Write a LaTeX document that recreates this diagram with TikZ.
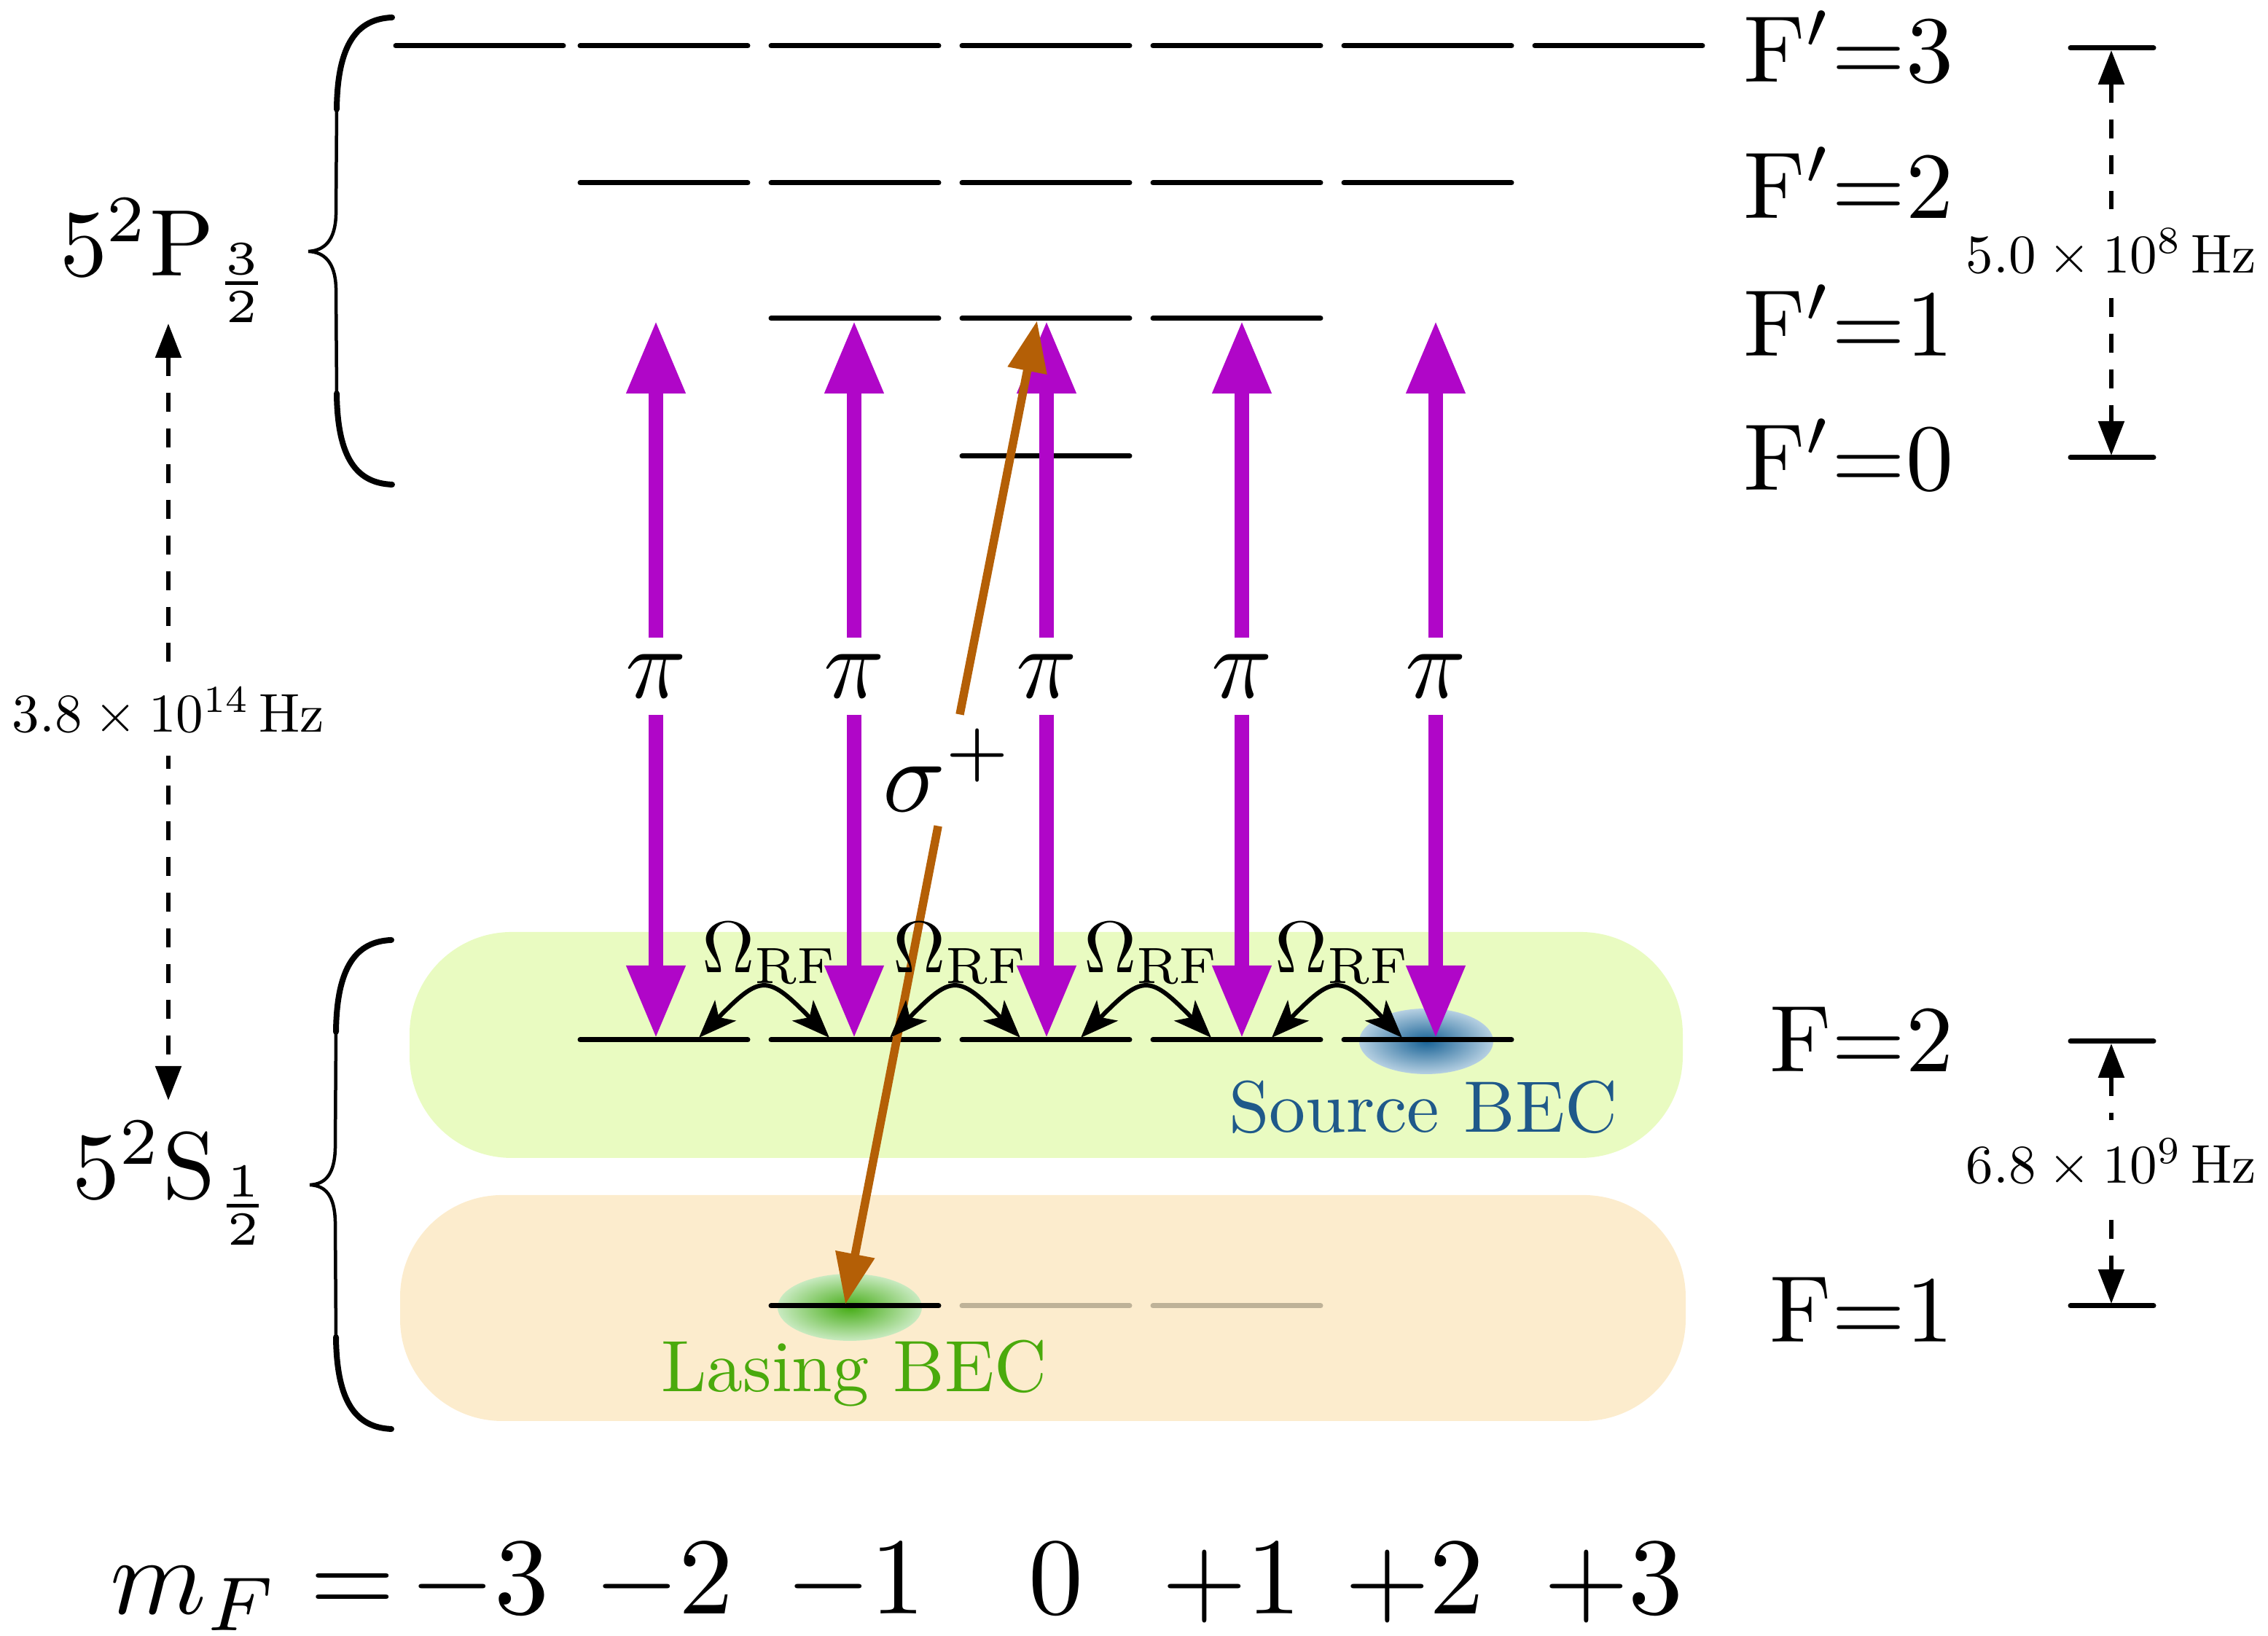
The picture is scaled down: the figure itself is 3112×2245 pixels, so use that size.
\RequirePackage{fix-cm}
\documentclass[tikz,border=0pt]{standalone}
\usepackage{graphicx}
\usetikzlibrary{arrows.meta}
\definecolor{piMag}{RGB}{176,6,200}
\definecolor{sigOr}{RGB}{180,95,6}
\definecolor{boxGreen}{RGB}{233,251,193}
\definecolor{boxPeach}{RGB}{252,236,205}
\definecolor{lvlGray}{RGB}{190,178,152}
\definecolor{srcBlue}{RGB}{31,89,138}
\definecolor{lasGreen}{RGB}{74,170,12}
\definecolor{blueIn}{RGB}{24,98,150}
\definecolor{blueOut}{RGB}{182,208,226}
\definecolor{greenIn}{RGB}{70,172,22}
\definecolor{greenOut}{RGB}{200,234,192}
\newcommand\txtBig[1]{\scalebox{1.3}{#1}}
\newcommand\txtMf[1]{\scalebox{1.5}{#1}}
\newcommand\txtPi[1]{\scalebox{1.38}{#1}}
\newcommand\txtSig[1]{\scalebox{1.42}{#1}}
\newcommand\txtDim[1]{\scalebox{0.75}{#1}}
\begin{document}
\begin{tikzpicture}[x=0.1pt,y=-0.1pt,
  lvl/.style={line width=0.7pt,line cap=round},
  lvlgray/.style={lvl,draw=lvlGray},
  piarr/.style={draw=piMag,line width=2pt,-{Triangle[length=10pt,width=7.6pt]}},
  sigarr/.style={draw=sigOr,line width=1.15pt,-{Triangle[length=7pt,width=5.2pt]}},
  rfarr/.style={line width=0.6pt,{Stealth[length=5.2pt,width=4pt,inset=1.3pt]}-{Stealth[length=5.2pt,width=4pt,inset=1.3pt]}},
  dimarr/.style={line width=0.55pt,dash pattern=on 2.6pt off 2.3pt,{Triangle[length=4.7pt,width=3.5pt]}-{Triangle[length=4.7pt,width=3.5pt]}},
  dimlbl/.style={fill=white,inner sep=2.6pt},
  biglbl/.style={inner sep=0pt},
  mflbl/.style={inner sep=0pt},
  pilbl/.style={inner sep=2.1pt},
  siglbl/.style={inner sep=1.8pt},
  rflbl/.style={inner sep=0pt,anchor=south},
  beclbl/.style={inner sep=0pt,anchor=base},
  bracestyle/.style={line width=0.45pt,line cap=round},
  braceend/.style={line width=0.8pt,line cap=round}]
\useasboundingbox (0,0) rectangle (3112,2245);

% background boxes
\fill[boxGreen, rounded corners=14pt] (562,1279) rectangle (2309,1589);
\fill[boxPeach, rounded corners=14pt] (549,1640) rectangle (2313,1950);

% BEC blobs
\shade[inner color=blueIn, outer color=blueOut] (1957,1429) ellipse [x radius=9.2pt, y radius=4.5pt];
\shade[inner color=greenIn, outer color=greenOut] (1166,1794) ellipse [x radius=9.9pt, y radius=4.6pt];

% levels
\foreach \c in {658,911,1173,1435,1697,1959,2221} \draw[lvl] (\c-115,63) -- (\c+115,63);
\foreach \c in {911,1173,1435,1697,1959} \draw[lvl] (\c-115,251) -- (\c+115,251);
\foreach \c in {1173,1435,1697} \draw[lvl] (\c-115,437) -- (\c+115,437);
\draw[lvl] (1435-115,626) -- (1435+115,626);
\foreach \c in {911,1173,1435,1697,1959} \draw[lvl] (\c-115,1427) -- (\c+115,1427);
\draw[lvl] (1173-115,1792) -- (1173+115,1792);
\foreach \c in {1435,1697} \draw[lvlgray] (\c-115,1792) -- (\c+115,1792);

% braces
\draw[bracestyle] (538,24) .. controls (490,26) and (463,60) .. (462,150) -- (461,295)
  .. controls (460,330) and (445,344) .. (423,345)
  .. controls (445,346) and (460,360) .. (461,395) -- (462,540)
  .. controls (463,630) and (490,663) .. (538,665);
\draw[braceend] (538,24) .. controls (490,26) and (463,60) .. (462,150);
\draw[braceend] (462,540) .. controls (463,630) and (490,663) .. (538,665);
\draw[bracestyle] (537,1290) .. controls (489,1292) and (462,1326) .. (461,1416) -- (460,1576)
  .. controls (459,1611) and (447,1625) .. (425,1626)
  .. controls (447,1627) and (459,1641) .. (460,1676) -- (461,1835)
  .. controls (462,1925) and (489,1959) .. (537,1961);
\draw[braceend] (537,1290) .. controls (489,1292) and (462,1326) .. (461,1416);
\draw[braceend] (461,1835) .. controls (462,1925) and (489,1959) .. (537,1961);

% pi transitions
\foreach \i/\x in {1/900,2/1172,3/1436,4/1704,5/1970} {
  \node[pilbl] (pi\i) at (\x,928) {\txtPi{$\pi$}};
  \coordinate (pu\i) at (\x,440);
  \coordinate (pd\i) at (\x,1425);
  \draw[piarr] (pi\i) -- (pu\i);
  \draw[piarr] (pi\i) -- (pd\i);
}

% sigma+ transition
\coordinate (sU) at (1423,440);
\coordinate (sD) at (1160,1790);
\node[siglbl] (sig) at (1302,1057) {\txtSig{$\sigma^+$}};
\draw[sigarr] (sig) -- (sU);
\draw[sigarr] (sig) -- (sD);

% RF couplings
\foreach \i/\a/\b in {1/911/1173,2/1173/1435,3/1435/1697,4/1697/1959} {
  \coordinate (ra\i) at (\a+48,1424);
  \coordinate (rb\i) at (\b-35,1424);
  \draw[rfarr] (ra\i) .. controls +(85,-87) and +(-85,-87) .. (rb\i);
  \node[rflbl] (rf\i) at ({(\a+\b)/2+15},1352) {$\Omega_{\mathrm{RF}}$};
}

% BEC labels
\node[beclbl,text=srcBlue] (src) at (1953,1554) {Source BEC};
\node[beclbl,text=lasGreen] (las) at (1172,1910) {Lasing BEC};

% level labels
\node[biglbl,anchor=base east] (Fp3) at (2682,113) {\txtBig{F$'$=3}};
\node[biglbl,anchor=base east] (Fp2) at (2682,300) {\txtBig{F$'$=2}};
\node[biglbl,anchor=base east] (Fp1) at (2682,489) {\txtBig{F$'$=1}};
\node[biglbl,anchor=base east] (Fp0) at (2682,673) {\txtBig{F$'$=0}};
\node[biglbl,anchor=base east] (F2) at (2682,1471) {\txtBig{F=2}};
\node[biglbl,anchor=base east] (F1) at (2682,1842) {\txtBig{F=1}};
\node[biglbl,anchor=base west] (P32) at (80,379) {\txtBig{$5^2\mathrm{P}_{\frac{3}{2}}$}};
\node[biglbl,anchor=base west] (S12) at (98,1645) {\txtBig{$5^2\mathrm{S}_{\frac{1}{2}}$}};

% splitting arrows
\draw[lvl] (2841,66) -- (2955,66);
\draw[lvl] (2841,628) -- (2955,628);
\draw[lvl] (2841,1429) -- (2955,1429);
\draw[lvl] (2841,1792) -- (2955,1792);
\coordinate (dAt) at (2897,69);
\coordinate (dAb) at (2897,625);
\coordinate (dBt) at (2897,1432);
\coordinate (dBb) at (2897,1789);
\coordinate (dLt) at (231,444);
\coordinate (dLb) at (231,1510);
\draw[dimarr] (dAt) -- node[dimlbl,pos=0.5] (lblA) {\txtDim{$5.0\times10^{8}\,\mathrm{Hz}$}} (dAb);
\draw[dimarr] (dBt) -- node[dimlbl,pos=0.46] (lblB) {\txtDim{$6.8\times10^{9}\,\mathrm{Hz}$}} (dBb);
\draw[dimarr] (dLt) -- node[dimlbl,pos=0.5] (lblL) {\txtDim{$3.8\times10^{14}\,\mathrm{Hz}$}} (dLb);

% m_F row
\node[mflbl,anchor=base west] (mF) at (150,2215) {\txtMf{$m_F =$}};
\foreach \i/\t/\x in {1/-3/658,2/-2/911,3/-1/1174,4/0/1449,5/+1/1690,6/+2/1941,7/+3/2214}
  \node[mflbl,anchor=base] (mf\i) at (\x,2215) {\txtMf{$\t$}};
\end{tikzpicture}
\end{document}
